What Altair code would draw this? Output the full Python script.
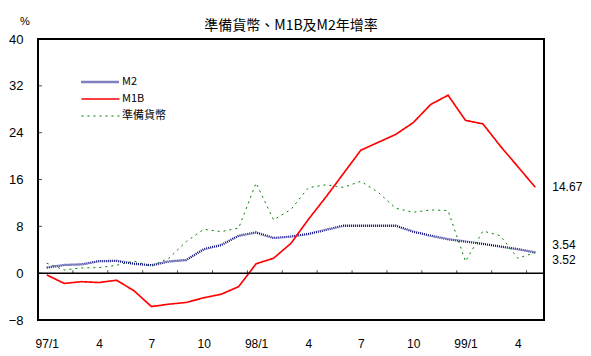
import altair as alt
import pandas as pd

months = ["97/1","97/2","97/3","97/4","97/5","97/6","97/7","97/8","97/9","97/10","97/11","97/12",
          "98/1","98/2","98/3","98/4","98/5","98/6","98/7","98/8","98/9","98/10","98/11","98/12",
          "99/1","99/2","99/3","99/4","99/5"]
tick_labels = ["97/1","4","7","10","98/1","4","7","10","99/1","4"]

m2 = [0.95,1.4,1.5,2.05,2.1,1.6,1.35,2.0,2.25,4.1,4.8,6.4,6.95,6.0,6.25,6.7,7.4,8.1,8.1,8.1,8.1,7.1,6.4,5.8,5.4,5.0,4.55,4.1,3.54]
m1b = [-0.3,-1.75,-1.45,-1.6,-1.2,-3.0,-5.7,-5.3,-5.0,-4.2,-3.6,-2.3,1.6,2.55,5.1,9.2,13.0,17.0,21.0,22.35,23.7,25.7,28.8,30.4,26.1,25.5,21.7,18.2,14.67]
reserve = [1.7,0.55,0.9,0.95,1.35,2.05,1.2,2.55,5.4,7.5,7.1,7.7,15.4,9.1,10.9,14.6,15.1,14.65,15.7,13.8,11.1,10.4,10.8,10.7,2.0,7.2,6.4,2.55,3.52]

series_names = ["M2", "M1B", "準備貨幣"]
y_ticks = [-8, 0, 8, 16, 24, 32, 40]
x_tick_bounds = [2, 4, 6, 8, 10, 12, 14, 16, 18, 20, 22, 24, 26, 28]
unit_label = "%"

rows = []
for name, vals in zip(series_names, [m2, m1b, reserve]):
    for i, v in enumerate(vals):
        rows.append({"idx": i + 0.5, "month": months[i], "series": name, "value": v,
                     "order": i})
df = pd.DataFrame(rows)
last = df[df["order"] == len(months) - 1].copy()
last["label"] = last["value"].map(lambda v: f"{v:.2f}")

label_vals = [0.5 + 3 * k for k in range(len(tick_labels))]
label_expr = "[" + ",".join(f"'{t}'" for t in tick_labels) + "][round((datum.value - 0.5) / 3)]"

xscale = alt.Scale(domain=[0, len(months)], nice=False, zero=False)
yscale = alt.Scale(domain=[-8, 40], nice=False)

x_axis = alt.Axis(values=label_vals, labelExpr=label_expr, ticks=False, domain=False,
                  grid=False, labelPadding=18, labelFont="Liberation Sans",
                  labelFontSize=12, labelColor="black", title=None)
y_axis = alt.Axis(values=y_ticks, ticks=False, domain=False, grid=False,
                  labelPadding=15, labelFont="Liberation Sans", labelFontSize=13,
                  labelColor="black", title=None)

legend = alt.Legend(orient="none", legendX=42, legendY=37, title=None,
                    symbolType="stroke", symbolSize=1444, symbolStrokeWidth=1.5,
                    labelFont="Noto Sans CJK TC", labelFontSize=11, labelOffset=1,
                    clipHeight=12, rowPadding=5, padding=0, labelColor="black")

lines = alt.Chart(df).mark_line(interpolate="linear").encode(
    x=alt.X("idx:Q", scale=xscale, axis=x_axis),
    y=alt.Y("value:Q", scale=yscale, axis=y_axis),
    color=alt.Color("series:N",
                    scale=alt.Scale(domain=series_names, range=["#000080", "#ff0000", "#008000"]),
                    legend=legend),
    strokeDash=alt.StrokeDash("series:N",
                              scale=alt.Scale(domain=series_names, range=[[1, 1], [1, 0], [2, 4]]),
                              legend=legend),
    strokeWidth=alt.StrokeWidth("series:N",
                                scale=alt.Scale(domain=series_names, range=[2.3, 1, 1.3]),
                                legend=None),
    detail="series:N",
    order="order:Q",
)

zero = alt.Chart(pd.DataFrame({"z": [0]})).mark_rule(color="black", strokeWidth=1.5).encode(
    y=alt.Y("z:Q", scale=yscale, axis=y_axis)
)

xticks = alt.Chart(pd.DataFrame({"b": x_tick_bounds})).mark_tick(
    orient="vertical", size=3, thickness=1, color="black", yOffset=-1.5
).encode(
    x=alt.X("b:Q", scale=xscale, axis=x_axis),
    y=alt.datum(0, scale=yscale, axis=y_axis),
)

yticks = alt.Chart(pd.DataFrame({"t": y_ticks})).mark_tick(
    orient="horizontal", size=3, thickness=1, color="black", xOffset=2.5
).encode(
    y=alt.Y("t:Q", scale=yscale, axis=y_axis),
    x=alt.datum(0, scale=xscale, axis=x_axis),
)

unit = alt.Chart(pd.DataFrame({"u": [unit_label]})).mark_text(
    align="center", baseline="middle", dx=-13, dy=-17, font="Liberation Sans",
    fontSize=11, color="black"
).encode(
    x=alt.datum(0, scale=xscale, axis=x_axis),
    y=alt.datum(40, scale=yscale, axis=y_axis),
    text="u:N",
)

def end_label(name, dy):
    return alt.Chart(last[last["series"] == name]).mark_text(
        align="left", baseline="middle", dx=17, dy=dy, font="Liberation Sans",
        fontSize=12, color="black"
    ).encode(
        x=alt.X("idx:Q", scale=xscale, axis=x_axis),
        y=alt.Y("value:Q", scale=yscale, axis=y_axis),
        text="label:N",
    )

labels = end_label("M1B", 0) + end_label("M2", -7) + end_label("準備貨幣", 7)

chart = alt.layer(lines, zero, xticks, yticks, unit, labels).properties(
    width=506, height=281,
    title=alt.TitleParams("準備貨幣、M1B及M2年增率", font="Noto Sans CJK TC", fontSize=14,
                          fontWeight="normal", color="black", anchor="middle", offset=4,
                          dy=21),
    autosize=alt.AutoSizeParams(type="none"),
    padding={"left": 30, "top": 31, "right": 39, "bottom": 33},
    background="white",
).configure_view(stroke="black", strokeWidth=2)

chart.save("out.html", embed_options={"renderer": "svg", "actions": False})
